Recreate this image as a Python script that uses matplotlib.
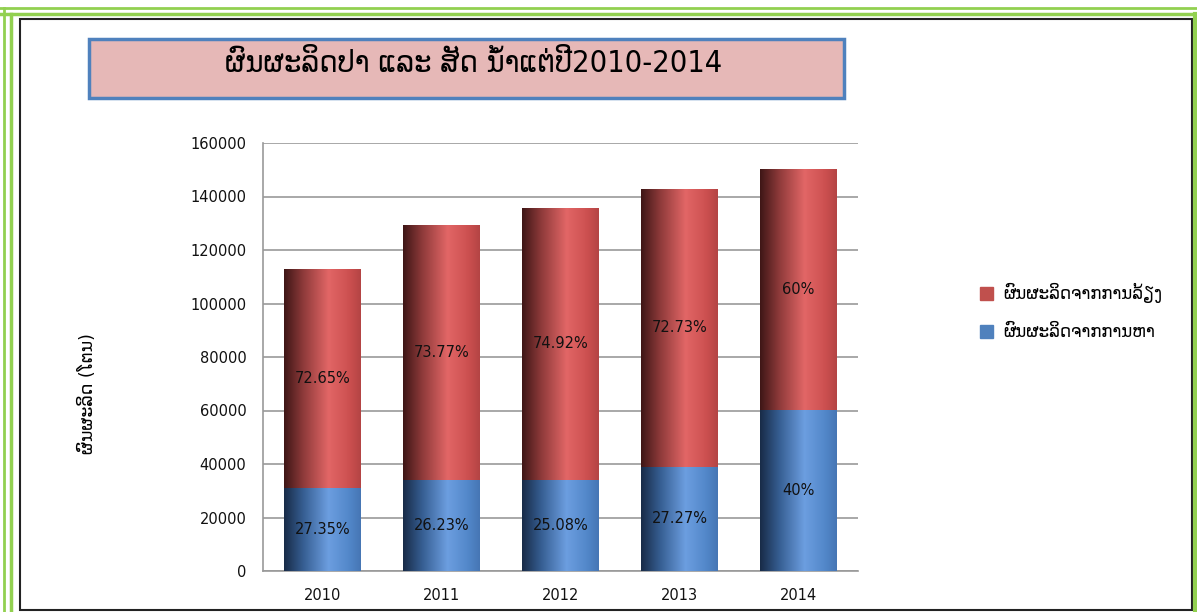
import numpy as np
import matplotlib
matplotlib.use('Agg')
import matplotlib.pyplot as plt
from matplotlib.colors import LinearSegmentedColormap
from matplotlib.patches import Patch, Rectangle

plt.rcParams['font.family'] = ['DejaVu Sans']

years = ['2010', '2011', '2012', '2013', '2014']
hunt = [30900, 34000, 34050, 38950, 60100]        # blue, bottom
farm = [82100, 95500, 101750, 103850, 90200]      # red, top
hunt_pct = ['27.35%', '26.23%', '25.08%', '27.27%', '40%']
farm_pct = ['72.65%', '73.77%', '74.92%', '72.73%', '60%']
yticks = [0, 20000, 40000, 60000, 80000, 100000, 120000, 140000, 160000]

title = 'ຜົນຜະລິດປາ ແລະ ສັດ ນ້ຳແຕ່ປີ2010-2014'
ylabel = 'ຜົນຜະລິດ (ໂຕນ)'
farm_label = 'ຜົນຜະລິດຈາກການລ້ຽງ'
hunt_label = 'ຜົນຜະລິດຈາກການຫາ'

fig = plt.figure(figsize=(11.97, 6.12), dpi=100)

# outer frame: green double line and black inner border
W, H = 1197, 612
def fx(x): return x / W
def fy(y): return 1 - y / H
fig.add_artist(plt.Line2D([0, 1], [fy(7.5), fy(7.5)], color='#92d050', lw=2))
fig.add_artist(plt.Line2D([0, fx(1195)], [fy(14), fy(14)], color='#92d050', lw=2.5))
fig.add_artist(plt.Line2D([fx(4), fx(4)], [0, fy(7.5)], color='#92d050', lw=2))
fig.add_artist(plt.Line2D([fx(11), fx(11)], [0, fy(14)], color='#92d050', lw=2.5))
fig.add_artist(plt.Line2D([fx(1195), fx(1195)], [0, fy(14)], color='#92d050', lw=3))
fig.add_artist(Rectangle((fx(20), fy(610)), fx(1192) - fx(20), fy(18.5) - fy(610),
                         transform=fig.transFigure, fill=False, ec='#222222', lw=1.5))

# title box
fig.add_artist(Rectangle((fx(89), fy(98)), fx(844) - fx(89), fy(39) - fy(98),
                         transform=fig.transFigure, fc='#e6b8b7', ec='#4f81bd', lw=2.5))
fig.text(fx(474), fy(64), title, ha='center', va='center', fontsize=22,
         fontstretch='condensed')

ax = fig.add_axes([263 / W, 1 - 571 / H, (858 - 263) / W, (571 - 143) / H])

x = np.arange(len(years))
width = 0.64
red_cmap = LinearSegmentedColormap.from_list(
    'r', [(0, '#3e1616'), (0.25, '#8e3a3a'), (0.58, '#e26666'), (0.85, '#cc5050'), (1, '#b44444')])
blue_cmap = LinearSegmentedColormap.from_list(
    'b', [(0, '#182b47'), (0.25, '#365e92'), (0.58, '#6c9ee0'), (0.85, '#5287c9'), (1, '#4676b4')])
grad = np.linspace(0, 1, 256).reshape(1, -1)

bars_h = ax.bar(x, hunt, width, color='#4f81bd', zorder=2)
bars_f = ax.bar(x, farm, width, bottom=hunt, color='#c0504d', zorder=2)
for bars, cmap in [(bars_h, blue_cmap), (bars_f, red_cmap)]:
    for b in bars:
        bx, by = b.get_x(), b.get_y()
        im = ax.imshow(grad, cmap=cmap, vmin=0, vmax=1, aspect='auto',
                       extent=[bx, bx + b.get_width(), by, by + b.get_height()],
                       zorder=3, interpolation='bilinear')
        im.set_clip_path(b)

for i in range(len(years)):
    ax.text(x[i], hunt[i] / 2, hunt_pct[i], ha='center', va='center', fontsize=10.5,
            color='#111111', zorder=4)
    ax.text(x[i], hunt[i] + farm[i] / 2, farm_pct[i], ha='center', va='center',
            fontsize=10.5, color='#111111', zorder=4)

ax.set_xlim(-0.5, len(years) - 0.5)
ax.set_ylim(0, 160000)
ax.set_yticks(yticks)
ax.set_yticklabels([str(v) for v in yticks])
ax.set_xticks(x)
ax.set_xticklabels(years)
ax.tick_params(axis='both', length=0, labelsize=10.5, colors='#111111')
ax.tick_params(axis='y', pad=12)
ax.tick_params(axis='x', pad=12)
ax.yaxis.grid(True, color='#999999', lw=1.2, zorder=0)
ax.set_axisbelow(True)
for s in ['top', 'right']:
    ax.spines[s].set_visible(False)
for s in ['left', 'bottom']:
    ax.spines[s].set_color('#999999')
    ax.spines[s].set_linewidth(1.2)

fig.text(fx(88), fy(394), ylabel, rotation=90, ha='center', va='center', fontsize=12.5)

handles = [Patch(color='#c0504d'), Patch(color='#4f81bd')]
fig.legend(handles, [farm_label, hunt_label], loc='center left',
           bbox_to_anchor=(fx(965), fy(312)), frameon=False, fontsize=12,
           handlelength=0.8, handleheight=0.8, handletextpad=0.6, labelspacing=1.2)

fig.savefig('out.png', dpi=100)
